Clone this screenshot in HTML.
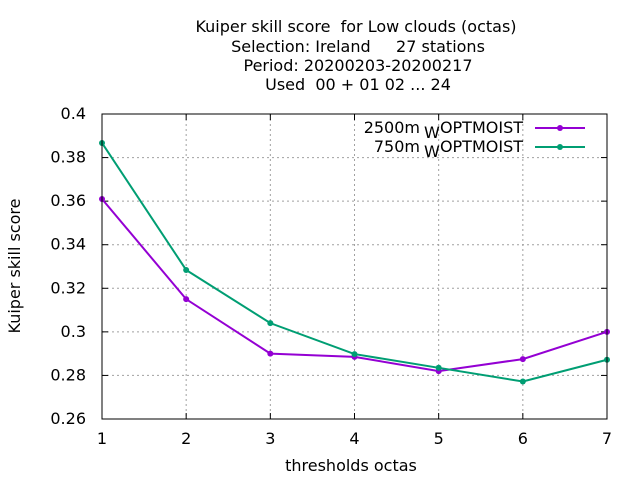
<!DOCTYPE html>
<html><head><meta charset="utf-8"><style>
body{margin:0;background:#fff}
svg{display:block;font-family:"DejaVu Sans","Liberation Sans",sans-serif}
text{white-space:pre}
</style></head><body>
<svg id="c" width="640" height="480">
<g font-size="16" text-anchor="middle" fill="#000">
<text x="356" y="32">Kuiper skill score  for Low clouds (octas)</text>
<text x="358" y="52">Selection: Ireland     27 stations</text>
<text x="358" y="71">Period: 20200203-20200217</text>
<text x="358" y="90">Used  00 + 01 02 ... 24</text>
</g>
<text font-size="16" text-anchor="middle" transform="translate(20,266) rotate(-90)">Kuiper skill score</text>
<text font-size="16" text-anchor="middle" x="351" y="471">thresholds octas</text>
<g id="grid"></g><g id="ticks"></g><g id="series"></g>
<rect x="102" y="114" width="505" height="305" fill="none" stroke="#000" stroke-width="1"/>
<g font-size="16">
<g>
<text x="420" y="133" text-anchor="end">2500m</text><text x="424" y="138">W</text><text x="523" y="133" text-anchor="end">OPTMOIST</text>
<line x1="535" y1="128" x2="585" y2="128" stroke="#9400d3" stroke-width="2"/><circle cx="560" cy="128" r="3" fill="#9400d3"/></g>
<g>
<text x="420" y="152" text-anchor="end">750m</text><text x="424" y="157">W</text><text x="523" y="152" text-anchor="end">OPTMOIST</text>
<line x1="535" y1="147" x2="585" y2="147" stroke="#009e73" stroke-width="2"/><circle cx="560" cy="147" r="3" fill="#009e73"/></g>
</g>
</svg>
<script>
const categories=[1,2,3,4,5,6,7];
const s2500=[0.361,0.315,0.290,0.2885,0.282,0.2875,0.300];
const s750=[0.3867,0.3284,0.304,0.2898,0.2835,0.2772,0.2872];
const yTicks=[0.26,0.28,0.3,0.32,0.34,0.36,0.38,0.4];
const yLabels=["0.26","0.28","0.3","0.32","0.34","0.36","0.38","0.4"];
const NS="http://www.w3.org/2000/svg";
const X=v=>102+(v-1)*(505/6);
const Y=v=>419-(v-0.26)/0.14*305;
function mk(t,a,p){const e=document.createElementNS(NS,t);for(const k in a)e.setAttribute(k,a[k]);p.appendChild(e);return e;}
const grid=document.getElementById('grid'),ticks=document.getElementById('ticks'),ser=document.getElementById('series');
yTicks.forEach((v,i)=>{
 const y=Y(v);
 if(i>0&&i<yTicks.length-1){const g=mk('line',{x1:102,x2:607,y1:y,y2:y,stroke:'#a0a0a0','stroke-dasharray':'2,3'},grid);
 
 }
 mk('line',{x1:102,x2:108,y1:y,y2:y,stroke:'#000'},ticks);
 mk('line',{x1:601,x2:607,y1:y,y2:y,stroke:'#000'},ticks);
 const t=mk('text',{x:86,y:y+5,'font-size':16,'text-anchor':'end'},ticks);t.textContent=yLabels[i];
 
 
});
categories.forEach((c,i)=>{
 const x=X(c);
 if(i>0&&i<categories.length-1){const g=mk('line',{x1:x,x2:x,y1:114,y2:419,stroke:'#a0a0a0','stroke-dasharray':'2,3'},grid);
 
 }
 mk('line',{x1:x,x2:x,y1:419,y2:413,stroke:'#000'},ticks);
 mk('line',{x1:x,x2:x,y1:114,y2:120,stroke:'#000'},ticks);
 const t=mk('text',{x:x,y:444,'font-size':16,'text-anchor':'middle'},ticks);t.textContent=String(c);
 
 
});
function draw(vals,col,name){
 const g=mk('g',{},ser);
 
 
 mk('polyline',{points:vals.map((v,i)=>X(categories[i])+','+Y(v)).join(' '),fill:'none',stroke:col,'stroke-width':2},g);
 vals.forEach((v,i)=>{const p=mk('circle',{cx:X(categories[i]),cy:Y(v),r:3,fill:col},g);
 
 });
}
draw(s2500,'#9400d3','series-2500m');
draw(s750,'#009e73','series-750m');
</script>
</body></html>
